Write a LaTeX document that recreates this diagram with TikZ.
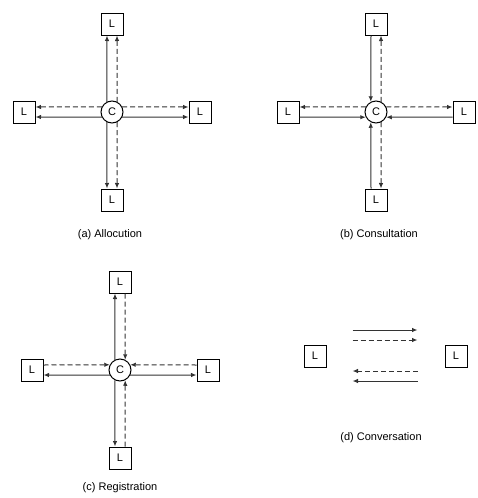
\documentclass[tikz,border=0pt]{standalone}
\usepackage{fontspec}
\setmainfont{Liberation Sans}
\usetikzlibrary{arrows.meta, positioning}

\begin{document}
\begin{tikzpicture}[
  x=1pt, y=-1pt,
  node distance=65pt,
  lbox/.style={draw, line width=1pt, minimum size=22pt, inner sep=0pt,
               font=\fontsize{11}{13}\selectfont},
  cnode/.style={draw, circle, line width=1pt, minimum size=22pt, inner sep=0pt,
                font=\fontsize{11}{13}\selectfont},
  flow/.style={-{Latex[length=5.5pt,width=4.5pt]}, line width=1pt, black!80},
  dflow/.style={flow, dash pattern=on 5pt off 3pt},
  caption/.style={font=\fontsize{11}{13}\selectfont}
]
\useasboundingbox (0,0) rectangle (477,498);

% (a) central node sends to every L
\node[cnode] (ca) at (112,112) {C};
\node[lbox, above=of ca] (ta) {L};
\node[lbox, below=of ca] (ba) {L};
\node[lbox, left=of ca]  (la) {L};
\node[lbox, right=of ca] (ra) {L};

\draw[flow]  (ca.117) -- ([xshift=-5pt]ta.south);
\draw[dflow] (ca.63)  -- ([xshift=5pt]ta.south);
\draw[flow]  (ca.243) -- ([xshift=-5pt]ba.north);
\draw[dflow] (ca.297) -- ([xshift=5pt]ba.north);
\draw[dflow] (ca.153) -- ([yshift=5pt]la.east);
\draw[flow]  (ca.207) -- ([yshift=-5pt]la.east);
\draw[dflow] (ca.27)  -- ([yshift=5pt]ra.west);
\draw[flow]  (ca.333) -- ([yshift=-5pt]ra.west);

\node[caption] (capa) at (110,235) {(a) Allocution};

% (b) solid lines come in, dashed go out
\node[cnode] (cb) at (376,112) {C};
\node[lbox, above=of cb] (tb) {L};
\node[lbox, below=of cb] (bb) {L};
\node[lbox, left=of cb]  (lb) {L};
\node[lbox, right=of cb] (rb) {L};

\draw[flow]  ([xshift=-5pt]tb.south) -- (cb.117);
\draw[dflow] (cb.63)  -- ([xshift=5pt]tb.south);
\draw[flow]  ([xshift=-5pt]bb.north) -- (cb.243);
\draw[dflow] (cb.297) -- ([xshift=5pt]bb.north);
\draw[dflow] (cb.153) -- ([yshift=5pt]lb.east);
\draw[flow]  ([yshift=-5pt]lb.east) -- (cb.207);
\draw[dflow] (cb.27)  -- ([yshift=5pt]rb.west);
\draw[flow]  ([yshift=-5pt]rb.west) -- (cb.333);

\node[caption] (capb) at (379,235) {(b) Consultation};

% (c) solid lines go out, dashed come in
\node[cnode] (cc) at (120,370) {C};
\node[lbox, above=of cc] (tc) {L};
\node[lbox, below=of cc] (bc) {L};
\node[lbox, left=of cc]  (lc) {L};
\node[lbox, right=of cc] (rc) {L};

\draw[flow]  (cc.117) -- ([xshift=-5pt]tc.south);
\draw[dflow] ([xshift=5pt]tc.south) -- (cc.63);
\draw[flow]  (cc.243) -- ([xshift=-5pt]bc.north);
\draw[dflow] ([xshift=5pt]bc.north) -- (cc.297);
\draw[dflow] ([yshift=5pt]lc.east) -- (cc.153);
\draw[flow]  (cc.207) -- ([yshift=-5pt]lc.east);
\draw[dflow] ([yshift=5pt]rc.west) -- (cc.27);
\draw[flow]  (cc.333) -- ([yshift=-5pt]rc.west);

\node[caption] (capc) at (120,488) {(c) Registration};

% (d) two L nodes talking directly
\node[lbox] (ld) at (315,356) {L};
\node[lbox] (rd) at (456,356) {L};

\coordinate (s1) at ([shift={(26pt,26pt)}]ld.east);
\coordinate (e1) at ([shift={(-27pt,26pt)}]rd.west);
\coordinate (s2) at ([shift={(26pt,16pt)}]ld.east);
\coordinate (e2) at ([shift={(-27pt,16pt)}]rd.west);
\coordinate (s3) at ([shift={(26pt,-15pt)}]ld.east);
\coordinate (e3) at ([shift={(-27pt,-15pt)}]rd.west);
\coordinate (s4) at ([shift={(26pt,-25pt)}]ld.east);
\coordinate (e4) at ([shift={(-27pt,-25pt)}]rd.west);

\draw[flow]  (s1) -- (e1);
\draw[dflow] (s2) -- (e2);
\draw[dflow] (e3) -- (s3);
\draw[flow]  (e4) -- (s4);

\node[caption] (capd) at (381,438) {(d) Conversation};
\end{tikzpicture}
\end{document}
